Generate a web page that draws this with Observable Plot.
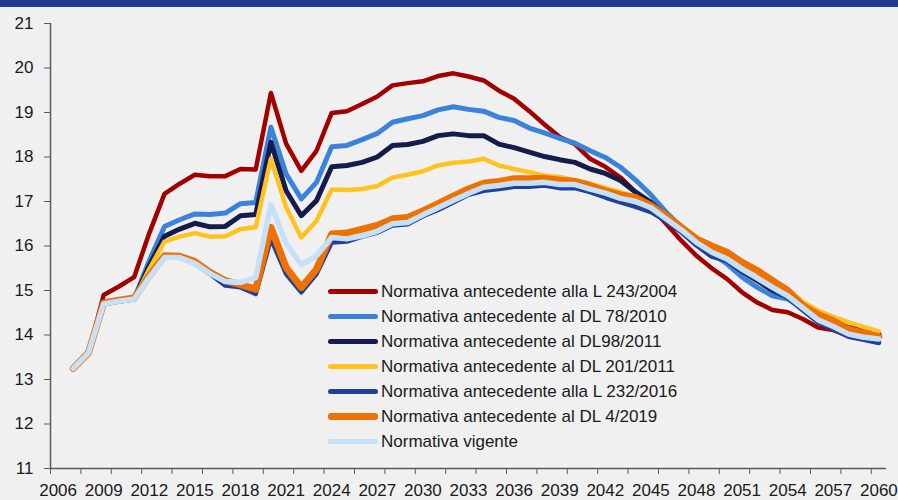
<!DOCTYPE html>
<html><head><meta charset="utf-8">
<script src="https://cdn.jsdelivr.net/npm/d3@7"></script>
<script src="https://cdn.jsdelivr.net/npm/@observablehq/plot@0.6"></script>
<style>
body{margin:0;background:#f0f0f0;}
#wrap{position:relative;width:898px;height:500px;background:#f0f0f0;overflow:hidden;font-family:"Liberation Sans",Arial,sans-serif;}
#bar{height:7px;background:#213a8f;}
#legend{position:absolute;left:328px;top:279px;}
.row{display:flex;align-items:center;height:25px;}
.sw{width:50px;border-radius:3px;margin-right:3px;}
.lab{font-size:17px;color:#1a1a1a;white-space:nowrap;line-height:25px;}
</style></head>
<body>
<div id="wrap"><div id="bar"></div><div id="chart"></div><div id="legend"></div></div>
<script>
const years = d3.range(2007, 2061);
const seriesNames = [
  "Normativa antecedente alla L 243/2004",
  "Normativa antecedente al DL 78/2010",
  "Normativa antecedente al DL98/2011",
  "Normativa antecedente al DL 201/2011",
  "Normativa antecedente alla L 232/2016",
  "Normativa antecedente al DL 4/2019",
  "Normativa vigente"
];
const seriesColors = ["#a30000","#3b82dc","#151c4c","#ffc220","#22409a","#ef7102","#c6e0fa"];
const seriesWidths = [4.5, 5, 5, 4.5, 4.5, 7, 5.5];

const l243 = [13.25,13.60,14.90,15.09,15.30,16.29,17.17,17.40,17.60,17.57,17.57,17.73,17.72,19.44,18.30,17.69,18.14,18.99,19.03,19.19,19.36,19.61,19.66,19.70,19.82,19.88,19.81,19.72,19.49,19.31,19.03,18.73,18.45,18.29,17.96,17.78,17.54,17.21,16.87,16.50,16.12,15.78,15.50,15.26,14.96,14.73,14.56,14.51,14.36,14.17,14.11,13.98,13.91,13.85];
const dl78 = [13.25,13.60,14.70,14.76,14.81,15.67,16.44,16.59,16.72,16.71,16.74,16.95,16.98,18.67,17.62,17.06,17.43,18.23,18.26,18.39,18.53,18.78,18.86,18.93,19.06,19.13,19.07,19.03,18.89,18.82,18.65,18.54,18.42,18.31,18.14,17.99,17.77,17.48,17.15,16.76,16.43,16.14,15.84,15.60,15.30,15.07,14.88,14.81,14.60,14.37,14.24,14.12,14.04,13.97];
const dl98 = [13.25,13.60,14.70,14.76,14.81,15.56,16.22,16.38,16.51,16.43,16.44,16.68,16.71,18.33,17.24,16.68,17.02,17.78,17.81,17.88,18.00,18.26,18.28,18.35,18.48,18.52,18.48,18.48,18.29,18.21,18.11,18.01,17.94,17.88,17.73,17.63,17.47,17.21,16.98,16.68,16.35,16.03,15.80,15.67,15.43,15.22,15.00,14.85,14.64,14.40,14.28,14.17,14.10,14.02];
const dl201 = [13.25,13.60,14.70,14.76,14.81,15.48,16.10,16.21,16.29,16.21,16.22,16.38,16.42,17.96,16.87,16.19,16.57,17.27,17.26,17.28,17.35,17.54,17.60,17.68,17.81,17.87,17.90,17.96,17.81,17.73,17.66,17.58,17.55,17.48,17.40,17.30,17.21,17.10,16.93,16.68,16.42,16.16,16.00,15.85,15.62,15.44,15.22,15.03,14.74,14.55,14.41,14.29,14.18,14.08];
const l232 = [13.25,13.60,14.70,14.76,14.81,15.30,15.74,15.74,15.61,15.37,15.11,15.07,14.92,16.16,15.37,14.96,15.37,16.08,16.10,16.21,16.30,16.46,16.49,16.67,16.81,16.98,17.15,17.24,17.28,17.33,17.33,17.36,17.30,17.30,17.21,17.09,16.98,16.88,16.76,16.56,16.31,16.01,15.76,15.66,15.44,15.25,15.04,14.83,14.55,14.28,14.13,13.96,13.89,13.82];
const dl4 = [13.25,13.60,14.72,14.78,14.83,15.33,15.78,15.77,15.65,15.41,15.22,15.13,15.03,16.42,15.52,15.07,15.48,16.27,16.29,16.38,16.46,16.61,16.64,16.79,16.95,17.12,17.28,17.41,17.45,17.51,17.51,17.52,17.48,17.45,17.36,17.24,17.15,17.09,16.91,16.68,16.42,16.16,16.00,15.86,15.63,15.45,15.22,15.00,14.66,14.46,14.32,14.13,14.04,13.95];
const vigente = [13.25,13.60,14.70,14.76,14.81,15.30,15.74,15.74,15.61,15.38,15.20,15.18,15.29,16.93,16.06,15.58,15.78,16.19,16.16,16.23,16.33,16.50,16.53,16.70,16.86,17.02,17.18,17.32,17.36,17.41,17.41,17.43,17.38,17.38,17.28,17.19,17.07,17.00,16.86,16.61,16.36,16.08,15.86,15.71,15.48,15.28,15.07,14.88,14.61,14.34,14.19,14.02,13.95,13.91];

const yTicks = [11,12,13,14,15,16,17,18,19,20,21];
const xLabelYears = [2006,2009,2012,2015,2018,2021,2024,2027,2030,2033,2036,2039,2042,2045,2048,2051,2054,2057,2060];
const xTickBounds = d3.range(2005.5, 2060, 2);

const allSeries = [l243, dl78, dl98, dl201, l232, dl4, vigente];
const axisColor = "#5a5a5a";
const textColor = "#1a1a1a";

const lineMarks = allSeries.map((vals, i) =>
  Plot.line(years.map((yr, j) => ({year: yr, value: vals[j]})), {
    x: "year", y: "value",
    stroke: seriesColors[i], strokeWidth: seriesWidths[i],
    strokeLinejoin: "round", strokeLinecap: "round"
  })
);

const chart = Plot.plot({
  width: 898, height: 493,
  marginLeft: 50, marginRight: 12, marginTop: 16, marginBottom: 32,
  style: {background: "transparent", fontFamily: '"Liberation Sans", Arial, sans-serif', fontSize: "17px", color: textColor},
  x: {type: "linear", domain: [2005.5, 2060.5]},
  y: {domain: [11, 21]},
  marks: [
    Plot.axisY({ticks: yTicks, tickSize: 6, tickPadding: 11, stroke: axisColor, fill: textColor, fontSize: 17, label: null, tickFormat: d => String(d)}),
    Plot.axisX({ticks: xTickBounds, tickSize: 6, stroke: axisColor, tickFormat: () => "", label: null}),
    Plot.axisX({ticks: xLabelYears, tickSize: 0, tickPadding: 15, fill: textColor, fontSize: 17, label: null, tickFormat: d => String(d)}),
    ...lineMarks,
    Plot.ruleX([2005.5], {stroke: axisColor, strokeWidth: 1.5}),
    Plot.ruleY([11], {stroke: axisColor, strokeWidth: 1.5})
  ]
});
document.getElementById("chart").appendChild(chart);

const legend = document.getElementById("legend");
seriesNames.forEach((name, i) => {
  const row = document.createElement("div");
  row.className = "row";
  const sw = document.createElement("span");
  sw.className = "sw";
  sw.style.height = (i === 5 ? 7 : 4.5) + "px";
  sw.style.background = seriesColors[i];
  const lab = document.createElement("span");
  lab.className = "lab";
  lab.textContent = name;
  row.appendChild(sw); row.appendChild(lab);
  legend.appendChild(row);
});
</script>
</body></html>
